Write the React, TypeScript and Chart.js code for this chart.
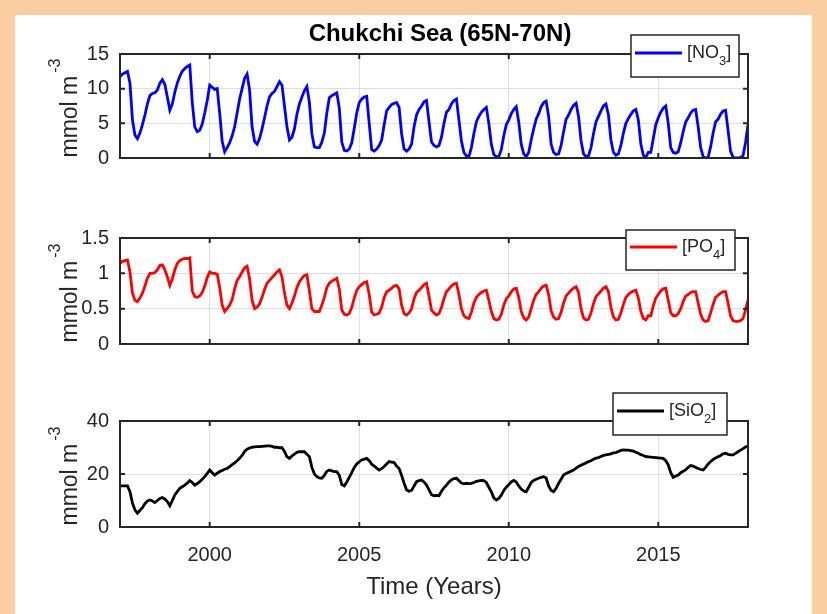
import React, { useEffect, useRef } from 'react';
import { Chart, registerables } from 'chart.js';

Chart.register(...registerables);

// ---- data (monthly values, first point = Jan 1997, last point = Jan 2018) ----
const START_YEAR = 1997;
const STEPS_PER_YEAR = 12;
const X_MIN = 1997;
const X_MAX = 2018;
const xTicks = [2000, 2005, 2010, 2015];

const no3Ticks = [0, 5, 10, 15];
const po4Ticks = [0, 0.5, 1, 1.5];
const sio2Ticks = [0, 20, 40];

const no3Values = [
  11.7, 12.1, 12.3, 12.5, 10.8, 5.5, 3.3, 2.8, 3.6, 4.8, 6.2, 7.8, // 1997
  9.0, 9.3, 9.4, 9.8, 10.8, 11.3, 10.6, 8.8, 6.9, 7.8, 9.5, 10.8, // 1998
  11.8, 12.5, 12.9, 13.2, 13.4, 8.0, 4.5, 3.8, 4.0, 4.9, 6.5, 8.3, // 1999
  10.5, 10.2, 9.9, 10.0, 6.5, 2.4, 0.9, 1.5, 2.2, 3.2, 4.5, 6.5, // 2000
  8.5, 10.0, 11.5, 12.1, 9.8, 4.5, 2.4, 2.0, 2.8, 4.2, 5.8, 7.5, // 2001
  8.8, 9.3, 9.6, 10.3, 11.0, 10.5, 7.5, 4.5, 2.6, 3.0, 4.2, 6.3, // 2002
  7.8, 8.8, 9.7, 10.3, 8.0, 3.5, 1.6, 1.5, 1.5, 2.3, 3.6, 6.5, // 2003
  8.7, 9.0, 9.2, 9.4, 7.2, 2.3, 1.1, 1.0, 1.3, 2.2, 4.3, 6.5, // 2004
  8.0, 8.5, 8.8, 8.9, 5.0, 1.2, 1.0, 1.3, 1.8, 2.6, 4.8, 6.8, // 2005
  7.3, 7.7, 7.9, 8.0, 7.3, 3.5, 1.3, 1.0, 1.3, 2.0, 4.5, 6.2, // 2006
  7.0, 7.5, 8.1, 8.3, 5.2, 2.3, 1.8, 1.6, 1.8, 3.0, 5.0, 6.6, // 2007
  7.0, 7.8, 8.3, 8.5, 5.5, 2.5, 0.8, 0.3, 0.2, 1.5, 3.5, 5.2, // 2008
  6.0, 6.6, 7.0, 7.3, 5.0, 2.0, 0.5, 0.2, 0.2, 1.2, 3.2, 4.8, // 2009
  5.5, 6.4, 7.0, 7.4, 5.2, 2.0, 0.6, 0.2, 0.8, 2.6, 4.2, 5.6, // 2010
  6.4, 7.4, 8.0, 8.2, 6.0, 2.0, 0.8, 0.5, 0.6, 1.8, 3.8, 5.6, // 2011
  6.2, 7.0, 7.6, 7.9, 6.0, 2.5, 0.6, 0.2, 0.3, 1.5, 3.5, 5.2, // 2012
  6.0, 6.8, 7.5, 7.8, 6.2, 2.6, 0.8, 0.4, 0.6, 1.8, 3.6, 5.0, // 2013
  5.7, 6.3, 6.8, 7.0, 5.5, 2.0, 0.4, 0.1, 0.8, 0.8, 2.8, 4.8, // 2014
  5.8, 6.6, 7.2, 7.5, 5.0, 1.5, 0.8, 0.7, 0.9, 2.2, 3.8, 5.2, // 2015
  5.8, 6.5, 6.9, 7.0, 4.5, 1.5, 0.2, 0.0, 0.1, 1.6, 3.6, 5.2, // 2016
  5.6, 6.3, 6.8, 6.9, 4.0, 1.0, 0.1, 0.0, 0.0, 0.1, 0.3, 2.2, // 2017
  4.8, // 2018
];

const po4Values = [
  1.14, 1.17, 1.18, 1.19, 1.02, 0.72, 0.62, 0.60, 0.65, 0.72, 0.82, 0.93, // 1997
  1.00, 1.00, 1.01, 1.05, 1.11, 1.12, 1.05, 0.95, 0.83, 0.92, 1.05, 1.14, // 1998
  1.18, 1.20, 1.21, 1.21, 1.22, 0.75, 0.67, 0.66, 0.68, 0.73, 0.82, 0.94, // 1999
  1.02, 1.00, 1.00, 0.99, 0.80, 0.55, 0.46, 0.50, 0.55, 0.63, 0.78, 0.90, // 2000
  0.95, 1.02, 1.08, 1.10, 0.92, 0.62, 0.50, 0.52, 0.57, 0.66, 0.77, 0.86, // 2001
  0.90, 0.94, 0.98, 1.02, 1.05, 0.95, 0.72, 0.55, 0.50, 0.58, 0.68, 0.80, // 2002
  0.88, 0.93, 0.97, 0.98, 0.75, 0.50, 0.46, 0.46, 0.46, 0.55, 0.66, 0.80, // 2003
  0.86, 0.89, 0.91, 0.93, 0.78, 0.48, 0.42, 0.41, 0.43, 0.52, 0.65, 0.76, // 2004
  0.81, 0.84, 0.87, 0.88, 0.70, 0.45, 0.41, 0.42, 0.44, 0.52, 0.66, 0.74, // 2005
  0.76, 0.79, 0.82, 0.83, 0.78, 0.55, 0.43, 0.41, 0.44, 0.50, 0.64, 0.73, // 2006
  0.76, 0.80, 0.84, 0.86, 0.68, 0.48, 0.44, 0.41, 0.43, 0.52, 0.64, 0.74, // 2007
  0.78, 0.82, 0.85, 0.86, 0.70, 0.50, 0.40, 0.37, 0.36, 0.45, 0.58, 0.66, // 2008
  0.70, 0.73, 0.75, 0.76, 0.62, 0.46, 0.36, 0.34, 0.35, 0.42, 0.55, 0.64, // 2009
  0.68, 0.74, 0.78, 0.79, 0.66, 0.46, 0.37, 0.34, 0.38, 0.50, 0.62, 0.70, // 2010
  0.74, 0.79, 0.82, 0.83, 0.70, 0.47, 0.38, 0.35, 0.36, 0.45, 0.58, 0.68, // 2011
  0.72, 0.76, 0.79, 0.81, 0.73, 0.50, 0.37, 0.34, 0.35, 0.44, 0.57, 0.67, // 2012
  0.71, 0.75, 0.79, 0.81, 0.74, 0.52, 0.38, 0.34, 0.35, 0.44, 0.56, 0.66, // 2013
  0.70, 0.73, 0.75, 0.76, 0.65, 0.46, 0.36, 0.34, 0.40, 0.40, 0.54, 0.65, // 2014
  0.70, 0.75, 0.78, 0.79, 0.62, 0.44, 0.40, 0.40, 0.43, 0.50, 0.60, 0.68, // 2015
  0.70, 0.73, 0.74, 0.74, 0.58, 0.42, 0.34, 0.32, 0.33, 0.44, 0.56, 0.66, // 2016
  0.69, 0.72, 0.74, 0.74, 0.58, 0.40, 0.33, 0.32, 0.32, 0.33, 0.36, 0.48, // 2017
  0.62, // 2018
];

const sio2Values = [
  15.5, 15.5, 15.5, 15.5, 13.3, 9.0, 6.5, 5.2, 6.3, 7.3, 8.8, 9.8, // 1997
  10.2, 9.8, 9.2, 10.0, 10.8, 11.1, 10.5, 9.6, 8.0, 10.0, 12.1, 13.4, // 1998
  14.6, 15.2, 15.8, 16.6, 17.5, 16.8, 15.8, 16.4, 17.1, 18.0, 19.0, 20.2, // 1999
  21.5, 20.5, 19.6, 20.3, 20.9, 21.3, 21.8, 22.1, 22.8, 23.5, 24.2, 25.0, // 2000
  25.9, 27.0, 28.5, 29.4, 29.8, 30.1, 30.2, 30.3, 30.3, 30.4, 30.5, 30.6, // 2001
  30.6, 30.4, 30.1, 30.1, 29.9, 29.9, 28.5, 26.5, 25.9, 26.8, 27.5, 28.2, // 2002
  28.4, 28.4, 28.4, 27.5, 26.5, 22.5, 20.0, 19.0, 18.5, 18.4, 19.5, 21.0, // 2003
  21.5, 21.2, 20.9, 20.9, 19.5, 16.0, 15.5, 17.0, 18.7, 20.5, 22.5, 23.8, // 2004
  24.6, 25.3, 25.6, 25.9, 25.0, 23.7, 23.0, 22.2, 21.5, 22.0, 22.8, 23.8, // 2005
  24.7, 24.5, 24.3, 23.0, 22.1, 19.5, 16.5, 14.0, 13.5, 13.8, 15.5, 17.1, // 2006
  17.5, 17.7, 17.0, 15.8, 14.0, 12.2, 11.8, 11.9, 11.8, 13.5, 14.8, 15.8, // 2007
  17.0, 17.8, 18.3, 18.4, 17.5, 16.6, 16.3, 16.5, 16.4, 16.5, 16.8, 17.2, // 2008
  17.4, 17.6, 17.5, 16.8, 15.0, 13.3, 11.0, 10.2, 10.8, 12.0, 13.8, 15.0, // 2009
  16.0, 17.0, 17.6, 17.0, 15.5, 14.3, 13.6, 13.3, 15.0, 16.8, 17.6, 18.0, // 2010
  18.4, 18.7, 19.0, 18.5, 15.5, 13.8, 13.3, 14.6, 16.5, 18.0, 19.6, 20.2, // 2011
  20.6, 21.0, 21.5, 22.2, 22.8, 23.3, 23.8, 24.2, 24.7, 25.0, 25.6, 26.0, // 2012
  26.2, 26.6, 27.0, 27.2, 27.4, 27.6, 28.0, 28.1, 28.5, 28.9, 29.1, 29.0, // 2013
  29.0, 28.8, 28.6, 28.2, 27.8, 27.3, 27.0, 26.6, 26.5, 26.4, 26.3, 26.2, // 2014
  26.1, 26.0, 25.9, 25.0, 23.5, 20.5, 18.7, 19.2, 19.6, 20.5, 21.0, 21.6, // 2015
  22.5, 23.2, 23.0, 22.5, 22.1, 21.7, 21.5, 22.5, 23.8, 24.7, 25.5, 26.0, // 2016
  26.5, 27.0, 27.6, 27.8, 27.4, 27.2, 27.2, 27.8, 28.4, 29.0, 29.6, 30.2, // 2017
  30.5, // 2018
];

// ---- styling ----
const FONT = '"Liberation Sans", Arial, Helvetica, sans-serif';
const AXIS_COLOR = '#262626';
const GRID_COLOR = '#dfdfdf';
const W = 827;
const H = 614;

type Panel = {
  values: number[];
  color: string;
  yMin: number;
  yMax: number;
  yTicks: number[];
  legendMain: string;
  legendSub: string;
  top: number;
  bottom: number;
  showX: boolean;
  legendRight: number;
  legendAbove: number;
  legendW: number;
  legendH: number;
  title?: string;
};

const panels: Panel[] = [
  {
    values: no3Values, color: '#0000ff', yMin: 0, yMax: 15, yTicks: no3Ticks,
    legendMain: '[NO', legendSub: '3', top: 54, bottom: 158, showX: false,
    legendRight: 9, legendAbove: 19, legendW: 108, legendH: 42,
    title: 'Chukchi Sea (65N-70N)',
  },
  {
    values: po4Values, color: '#ff0000', yMin: 0, yMax: 1.5, yTicks: po4Ticks,
    legendMain: '[PO', legendSub: '4', top: 238, bottom: 344, showX: false,
    legendRight: 13, legendAbove: 8, legendW: 109, legendH: 40,
  },
  {
    values: sio2Values, color: '#000000', yMin: 0, yMax: 40, yTicks: sio2Ticks,
    legendMain: '[SiO', legendSub: '2', top: 421, bottom: 527, showX: true,
    legendRight: 21, legendAbove: 28, legendW: 114, legendH: 42,
  },
];

function makeDecor(p: Panel) {
  return {
    id: 'decor',
    afterDraw(chart: any) {
      const ctx: CanvasRenderingContext2D = chart.ctx;
      const { left, right, top, bottom } = chart.chartArea;
      const xs = chart.scales.x;
      const ys = chart.scales.y;
      ctx.save();
      // frame
      ctx.strokeStyle = AXIS_COLOR;
      ctx.lineWidth = 2;
      ctx.strokeRect(left, top, right - left, bottom - top);
      // inner ticks
      ctx.beginPath();
      xs.ticks.forEach((t: any) => {
        const px = xs.getPixelForValue(t.value);
        ctx.moveTo(px, bottom); ctx.lineTo(px, bottom - 5);
        ctx.moveTo(px, top); ctx.lineTo(px, top + 5);
      });
      ys.ticks.forEach((t: any) => {
        const py = ys.getPixelForValue(t.value);
        ctx.moveTo(left, py); ctx.lineTo(left + 5, py);
        ctx.moveTo(right, py); ctx.lineTo(right - 5, py);
      });
      ctx.stroke();

      // y label with superscript
      const mainFont = `23px ${FONT}`;
      const supFont = `16px ${FONT}`;
      ctx.font = mainFont;
      const mainText = 'mmol m';
      const mw = ctx.measureText(mainText).width;
      ctx.font = supFont;
      const supText = '-3';
      const sw = ctx.measureText(supText).width;
      const total = mw + 3 + sw;
      ctx.save();
      ctx.translate(left - 43, (top + bottom) / 2 + 2);
      ctx.rotate(-Math.PI / 2);
      ctx.fillStyle = AXIS_COLOR;
      ctx.textAlign = 'left';
      ctx.textBaseline = 'alphabetic';
      ctx.font = mainFont;
      ctx.fillText(mainText, -total / 2, 0);
      ctx.font = supFont;
      ctx.fillText(supText, -total / 2 + mw + 3, -17);
      ctx.restore();

      // title
      if (p.title) {
        ctx.font = `bold 24px ${FONT}`;
        ctx.fillStyle = '#000';
        ctx.textAlign = 'center';
        ctx.textBaseline = 'middle';
        ctx.fillText(p.title, 440, 34);
      }

      // legend
      const bx = right - p.legendRight - p.legendW;
      const by = top - p.legendAbove;
      ctx.fillStyle = '#ffffff';
      ctx.fillRect(bx, by, p.legendW, p.legendH);
      ctx.strokeStyle = AXIS_COLOR;
      ctx.lineWidth = 1.5;
      ctx.strokeRect(bx, by, p.legendW, p.legendH);
      const ly = by + p.legendH / 2 - 3;
      ctx.strokeStyle = p.color;
      ctx.lineWidth = 2.8;
      ctx.beginPath();
      ctx.moveTo(bx + 4, ly);
      ctx.lineTo(bx + 51, ly);
      ctx.stroke();
      ctx.fillStyle = AXIS_COLOR;
      ctx.textAlign = 'left';
      ctx.textBaseline = 'middle';
      let tx = bx + 56;
      ctx.font = `18px ${FONT}`;
      ctx.fillText(p.legendMain, tx, ly);
      tx += ctx.measureText(p.legendMain).width;
      ctx.font = `13px ${FONT}`;
      ctx.fillText(p.legendSub, tx, ly + 8);
      tx += ctx.measureText(p.legendSub).width;
      ctx.font = `18px ${FONT}`;
      ctx.fillText(']', tx, ly);
      ctx.restore();
    },
  };
}

function PanelChart({ panel }: { panel: Panel }) {
  const ref = useRef<HTMLCanvasElement | null>(null);
  useEffect(() => {
    if (!ref.current) return;
    const data = panel.values.map((v, i) => ({ x: START_YEAR + i / STEPS_PER_YEAR, y: v }));
    const xHeight = panel.showX ? H - panel.bottom : 0;
    const chart = new Chart(ref.current, {
      type: 'line',
      data: {
        datasets: [
          {
            data,
            borderColor: panel.color,
            borderWidth: 2.8,
            pointRadius: 0,
            fill: false,
            tension: 0,
          },
        ],
      },
      options: {
        responsive: false,
        animation: false,
        devicePixelRatio: 1,
        events: [],
        layout: {
          padding: {
            left: 0,
            right: 79,
            top: panel.top,
            bottom: panel.showX ? 0 : H - panel.bottom,
          },
        },
        plugins: {
          legend: { display: false },
          tooltip: { enabled: false },
        },
        scales: {
          x: {
            type: 'linear',
            min: X_MIN,
            max: X_MAX,
            afterBuildTicks: (s: any) => {
              s.ticks = xTicks.map((v) => ({ value: v }));
            },
            afterFit: (s: any) => {
              s.height = xHeight;
            },
            grid: { color: GRID_COLOR, lineWidth: 1, drawTicks: false },
            border: { display: false },
            ticks: {
              display: panel.showX,
              padding: 16,
              color: AXIS_COLOR,
              font: { family: FONT, size: 20 },
              maxRotation: 0,
              callback: (v: any) => String(v),
            },
            title: {
              display: panel.showX,
              text: 'Time (Years)',
              color: AXIS_COLOR,
              font: { family: FONT, size: 24 },
              padding: { top: 0, bottom: 12 },
            },
          },
          y: {
            type: 'linear',
            min: panel.yMin,
            max: panel.yMax,
            afterBuildTicks: (s: any) => {
              s.ticks = panel.yTicks.map((v) => ({ value: v }));
            },
            afterFit: (s: any) => {
              s.width = 120;
            },
            grid: { color: GRID_COLOR, lineWidth: 1, drawTicks: false },
            border: { display: false },
            ticks: {
              padding: 11,
              color: AXIS_COLOR,
              font: { family: FONT, size: 20 },
              callback: (v: any) => String(v),
            },
          },
        },
      },
      plugins: [makeDecor(panel)],
    } as any);
    return () => chart.destroy();
  }, [panel]);
  return (
    <canvas
      ref={ref}
      width={W}
      height={H}
      style={{ position: 'absolute', left: 0, top: 0, width: W, height: H }}
    />
  );
}

export default function App() {
  return (
    <div
      style={{
        position: 'absolute',
        left: 0,
        top: 0,
        width: W,
        height: H,
        background: '#fbcda1',
        overflow: 'hidden',
      }}
    >
      <div
        style={{
          position: 'absolute',
          left: 15,
          top: 15,
          width: 797,
          height: H - 15,
          background: '#ffffff',
        }}
      />
      {panels.map((p, i) => (
        <PanelChart key={i} panel={p} />
      ))}
    </div>
  );
}
